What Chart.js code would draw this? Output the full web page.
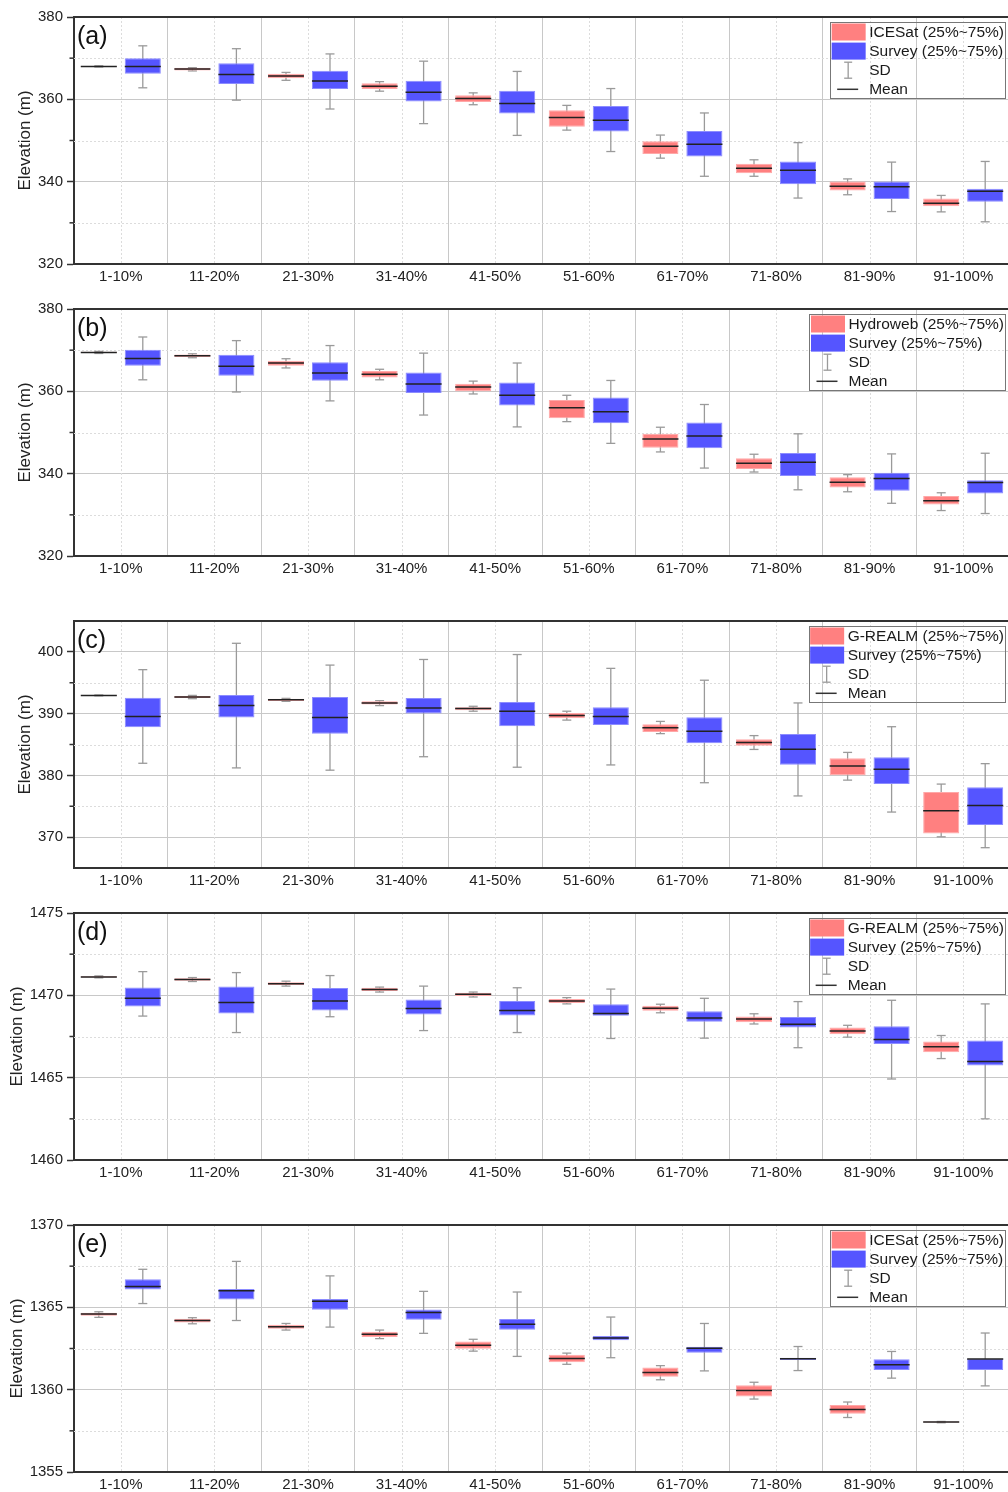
<!DOCTYPE html>
<html>
<head>
<meta charset="utf-8">
<title>Elevation by percentile</title>
<script src="https://cdn.jsdelivr.net/npm/chart.js@4.4.1/dist/chart.umd.min.js"></script>
<style>
html, body { margin: 0; padding: 0; background: #fff; width: 1008px; height: 1492px; overflow: hidden; position: relative; }
canvas.panel { position: absolute; left: 0; }
</style>
</head>
<body>
<canvas id="panelA" class="panel" width="1010" height="288" style="top:4px"></canvas>
<canvas id="panelB" class="panel" width="1010" height="288" style="top:296px"></canvas>
<canvas id="panelC" class="panel" width="1010" height="288" style="top:608px"></canvas>
<canvas id="panelD" class="panel" width="1010" height="288" style="top:900px"></canvas>
<canvas id="panelE" class="panel" width="1010" height="288" style="top:1212px"></canvas>
<script>
const categories = ['1-10%', '11-20%', '21-30%', '31-40%', '41-50%', '51-60%', '61-70%', '71-80%', '81-90%', '91-100%'];
const panelTags = ['(a)', '(b)', '(c)', '(d)', '(e)'];
const sourceNames = ['ICESat', 'Hydroweb', 'G-REALM', 'G-REALM', 'ICESat'];
const yMins = [320, 320, 365, 1460, 1355];
const yMaxs = [380, 380, 405, 1475, 1370];
const yTicks = [
    [320, 340, 360, 380],
    [320, 340, 360, 380],
    [370, 380, 390, 400],
    [1460, 1465, 1470, 1475],
    [1355, 1360, 1365, 1370]
];
const yMinorTicks = [
    [330, 350, 370],
    [330, 350, 370],
    [375, 385, 395],
    [1462.5, 1467.5, 1472.5],
    [1357.5, 1362.5, 1367.5]
];

// each row: [25%, 75%, mean, mean - SD, mean + SD]
const icesatA = [
    [367.9, 368.1, 368.0, 367.85, 368.15],
    [367.0, 367.66, 367.34, 366.9, 367.7],
    [365.1, 366.22, 365.66, 364.62, 366.54],
    [362.54, 363.9, 363.18, 361.98, 364.3],
    [359.33, 361.0, 360.21, 358.69, 361.57],
    [353.32, 357.33, 355.57, 352.52, 358.53],
    [346.75, 349.8, 348.6, 345.71, 351.32],
    [342.03, 344.35, 343.23, 341.31, 345.31],
    [337.86, 340.03, 338.9, 336.82, 340.67],
    [334.02, 335.94, 334.74, 332.66, 336.66]
];
const surveyA = [
    [366.22, 370.0, 368.0, 362.8, 373.0],
    [363.74, 368.78, 366.06, 359.8, 372.3],
    [362.54, 366.94, 364.46, 357.65, 371.03],
    [359.5, 364.54, 361.74, 354.1, 369.27],
    [356.53, 362.06, 359.01, 351.24, 366.78],
    [352.2, 358.37, 354.93, 347.32, 362.62],
    [346.11, 352.28, 349.08, 341.31, 356.69],
    [339.38, 344.91, 342.75, 336.02, 349.48],
    [335.78, 340.03, 338.74, 332.74, 344.75],
    [335.14, 338.26, 337.7, 330.25, 344.91]
];
const hydrowebB = [
    [369.3, 369.6, 369.44, 369.2, 369.7],
    [368.32, 368.96, 368.64, 368.16, 369.12],
    [366.24, 367.44, 366.88, 365.68, 367.92],
    [363.36, 364.96, 364.16, 362.8, 365.36],
    [360.0, 361.84, 361.04, 359.36, 362.48],
    [353.44, 357.92, 356.0, 352.64, 359.04],
    [346.32, 349.68, 348.4, 345.28, 351.28],
    [341.12, 343.76, 342.56, 340.4, 344.72],
    [336.64, 339.12, 337.92, 335.6, 339.76],
    [332.48, 334.56, 333.44, 331.04, 335.36]
];
const surveyB = [
    [366.24, 370.08, 368.0, 362.8, 373.2],
    [363.76, 368.88, 366.08, 359.84, 372.32],
    [362.56, 367.04, 364.48, 357.68, 371.12],
    [359.6, 364.56, 361.76, 354.24, 369.28],
    [356.56, 362.16, 359.04, 351.36, 366.88],
    [352.24, 358.48, 355.04, 347.36, 362.64],
    [346.16, 352.4, 349.12, 341.36, 356.8],
    [339.44, 345.04, 342.8, 336.08, 349.68],
    [335.84, 340.24, 338.8, 332.8, 344.8],
    [335.2, 338.4, 337.84, 330.32, 344.96]
];
const grealmC = [
    [392.9, 393.0, 392.95, 392.88, 393.02],
    [392.53, 392.85, 392.69, 392.42, 392.95],
    [392.05, 392.42, 392.26, 391.99, 392.47],
    [391.46, 391.99, 391.73, 391.3, 392.1],
    [390.55, 391.03, 390.82, 390.39, 391.19],
    [389.27, 390.12, 389.7, 388.95, 390.39],
    [387.03, 388.26, 387.72, 386.76, 388.74],
    [384.79, 385.85, 385.32, 384.2, 386.44],
    [380.04, 382.76, 381.53, 379.23, 383.72],
    [370.59, 377.31, 374.27, 370.05, 378.59]
];
const surveyC = [
    [387.78, 392.58, 389.54, 381.96, 397.12],
    [389.38, 393.01, 391.3, 381.21, 401.39],
    [386.76, 392.69, 389.38, 380.84, 397.86],
    [390.02, 392.53, 390.93, 383.02, 398.77],
    [387.94, 391.89, 390.39, 381.32, 399.57],
    [388.15, 391.03, 389.54, 381.69, 397.33],
    [385.21, 389.43, 387.14, 378.81, 395.41],
    [381.74, 386.71, 384.25, 376.67, 391.73],
    [378.59, 382.92, 381.0, 374.06, 387.88],
    [371.97, 378.06, 375.12, 368.29, 381.9]
];
const grealmD = [
    [1471.08, 1471.16, 1471.12, 1471.06, 1471.18],
    [1470.88, 1471.04, 1470.96, 1470.84, 1471.08],
    [1470.62, 1470.8, 1470.7, 1470.56, 1470.86],
    [1470.26, 1470.46, 1470.36, 1470.2, 1470.5],
    [1469.96, 1470.16, 1470.06, 1469.9, 1470.2],
    [1469.54, 1469.78, 1469.66, 1469.48, 1469.86],
    [1469.06, 1469.36, 1469.22, 1468.94, 1469.46],
    [1468.36, 1468.72, 1468.56, 1468.26, 1468.88],
    [1467.64, 1468.04, 1467.84, 1467.46, 1468.18],
    [1466.54, 1467.2, 1466.88, 1466.16, 1467.56]
];
const surveyD = [
    [1469.32, 1470.48, 1469.82, 1468.74, 1471.44],
    [1468.9, 1470.54, 1469.56, 1467.74, 1471.38],
    [1469.08, 1470.44, 1469.66, 1468.7, 1471.2],
    [1468.84, 1469.74, 1469.2, 1467.86, 1470.56],
    [1468.78, 1469.66, 1469.08, 1467.74, 1470.46],
    [1468.76, 1469.46, 1468.9, 1467.38, 1470.38],
    [1468.4, 1469.04, 1468.62, 1467.4, 1469.82],
    [1468.04, 1468.68, 1468.24, 1466.82, 1469.62],
    [1467.04, 1468.12, 1467.32, 1464.92, 1469.7],
    [1465.74, 1467.26, 1465.98, 1462.5, 1469.48]
];
const icesatE = [
    [1364.49, 1364.67, 1364.59, 1364.39, 1364.73],
    [1364.08, 1364.31, 1364.2, 1364.0, 1364.37],
    [1363.7, 1363.94, 1363.82, 1363.62, 1364.02],
    [1363.2, 1363.52, 1363.36, 1363.1, 1363.62],
    [1362.48, 1362.92, 1362.7, 1362.34, 1363.06],
    [1361.66, 1362.12, 1361.9, 1361.54, 1362.22],
    [1360.78, 1361.34, 1361.04, 1360.6, 1361.46],
    [1359.59, 1360.27, 1359.95, 1359.43, 1360.45],
    [1358.53, 1359.07, 1358.79, 1358.31, 1359.25],
    [1358.0, 1358.06, 1358.03, 1357.99, 1358.07]
];
const surveyE = [
    [1366.09, 1366.71, 1366.27, 1365.23, 1367.31],
    [1365.47, 1366.11, 1366.01, 1364.2, 1367.79],
    [1364.85, 1365.51, 1365.37, 1363.8, 1366.91],
    [1364.25, 1364.87, 1364.69, 1363.42, 1365.97],
    [1363.64, 1364.29, 1363.98, 1362.02, 1365.93],
    [1363.0, 1363.26, 1363.14, 1361.94, 1364.41],
    [1362.24, 1362.6, 1362.52, 1361.14, 1364.02],
    [1361.8, 1361.94, 1361.88, 1361.16, 1362.62],
    [1361.2, 1361.84, 1361.52, 1360.7, 1362.32],
    [1361.2, 1361.86, 1361.86, 1360.23, 1363.44]
];

const FONT = "'Liberation Sans', Arial, sans-serif";
const RED = '#ff8080';
const BLUE = '#5555ff';
const WHISKER = '#9a9a9a';
const AXIS = '#333333';

Chart.defaults.font.family = FONT;

function line(ctx, x1, y1, x2, y2) {
    ctx.beginPath();
    ctx.moveTo(x1, y1);
    ctx.lineTo(x2, y2);
    ctx.stroke();
}

// Whiskers, mean lines, minor grid, frame, tag and legend
const boxExtras = {
    id: 'boxExtras',
    beforeDatasetsDraw(chart, args, opts) {
        const { ctx, chartArea: a, scales: { x, y } } = chart;
        ctx.save();
        ctx.strokeStyle = '#dcdcdc';
        ctx.lineWidth = 1;
        ctx.setLineDash([2, 2]);
        categories.forEach((c, i) => {
            const px = Math.round(x.getPixelForValue(i)) + 0.5;
            line(ctx, px, a.top, px, a.bottom);
        });
        opts.minor.forEach(v => {
            const py = Math.round(y.getPixelForValue(v)) + 0.5;
            line(ctx, a.left, py, a.right, py);
        });
        ctx.setLineDash([]);
        ctx.strokeStyle = AXIS;
        ctx.lineWidth = 1.5;
        opts.minor.forEach(v => {
            const py = y.getPixelForValue(v);
            line(ctx, a.left - 4.5, py, a.left, py);
        });
        // SD whiskers
        ctx.strokeStyle = WHISKER;
        ctx.lineWidth = 1.3;
        chart.data.datasets.forEach((ds, d) => {
            chart.getDatasetMeta(d).data.forEach((bar, i) => {
                const s = ds.stats[i];
                const lo = y.getPixelForValue(s[3]);
                const hi = y.getPixelForValue(s[4]);
                line(ctx, bar.x, lo, bar.x, hi);
                line(ctx, bar.x - 4.5, lo, bar.x + 4.5, lo);
                line(ctx, bar.x - 4.5, hi, bar.x + 4.5, hi);
            });
        });
        ctx.restore();
    },
    afterDatasetsDraw(chart) {
        const { ctx, scales: { y } } = chart;
        ctx.save();
        ctx.strokeStyle = '#222';
        ctx.lineWidth = 1.5;
        chart.data.datasets.forEach((ds, d) => {
            chart.getDatasetMeta(d).data.forEach((bar, i) => {
                const py = y.getPixelForValue(ds.stats[i][2]);
                line(ctx, bar.x - bar.width / 2, py, bar.x + bar.width / 2, py);
            });
        });
        ctx.restore();
    },
    afterDraw(chart, args, opts) {
        const { ctx, chartArea: a } = chart;
        ctx.save();
        // top frame
        ctx.strokeStyle = AXIS;
        ctx.lineWidth = 2;
        line(ctx, a.left - 1, a.top, a.right, a.top);
        // panel tag
        ctx.fillStyle = '#111';
        ctx.font = '25px ' + FONT;
        ctx.textBaseline = 'alphabetic';
        ctx.textAlign = 'left';
        ctx.fillText(opts.tag, a.left + 3, a.top + 27);

        // legend
        const names = [opts.source + ' (25%~75%)', 'Survey (25%~75%)', 'SD', 'Mean'];
        ctx.font = '15.5px ' + FONT;
        const textW = Math.max(...names.map(n => ctx.measureText(n).width));
        const boxRight = a.right - 5;
        const textX = boxRight - 1 - textW;
        const boxLeft = textX - 39;
        const boxTop = a.top + 5;
        ctx.strokeStyle = '#777';
        ctx.lineWidth = 1;
        ctx.strokeRect(Math.round(boxLeft) + 0.5, Math.round(boxTop) + 0.5, Math.round(boxRight - boxLeft), 76);
        ctx.textBaseline = 'middle';
        ctx.fillStyle = '#1a1a1a';
        names.forEach((n, k) => {
            const ry = boxTop + 10 + 19.1 * k;
            if (k === 0 || k === 1) {
                ctx.fillStyle = k === 0 ? RED : BLUE;
                ctx.fillRect(boxLeft + 1.5, ry - 8.5, 34, 17);
            } else if (k === 2) {
                const cx = boxLeft + 18;
                ctx.strokeStyle = WHISKER;
                ctx.lineWidth = 1.3;
                line(ctx, cx, ry - 8, cx, ry + 8);
                line(ctx, cx - 4, ry - 8, cx + 4, ry - 8);
                line(ctx, cx - 4, ry + 8, cx + 4, ry + 8);
            } else {
                ctx.strokeStyle = '#333';
                ctx.lineWidth = 1.5;
                line(ctx, boxLeft + 7, ry, boxLeft + 28, ry);
            }
            ctx.fillStyle = '#1a1a1a';
            ctx.fillText(n, textX, ry + 0.5);
        });
        ctx.restore();
    }
};

function makePanel(canvasId, idx, altimetry, survey) {
    const wideLabels = yTicks[idx][0] >= 1000;
    return new Chart(document.getElementById(canvasId), {
        type: 'bar',
        data: {
            labels: categories,
            datasets: [
                {
                    label: sourceNames[idx],
                    data: altimetry.map(r => [r[0], r[1]]),
                    stats: altimetry,
                    backgroundColor: RED,
                    borderColor: '#ffa8a8',
                    borderWidth: 1,
                    borderSkipped: false,
                    categoryPercentage: 0.94,
                    barPercentage: 0.82
                },
                {
                    label: 'Survey',
                    data: survey.map(r => [r[0], r[1]]),
                    stats: survey,
                    backgroundColor: BLUE,
                    borderColor: '#8c8cff',
                    borderWidth: 1,
                    borderSkipped: false,
                    categoryPercentage: 0.94,
                    barPercentage: 0.82
                }
            ]
        },
        options: {
            responsive: false,
            animation: false,
            events: [],
            layout: { padding: { top: 10, left: 0, right: 0, bottom: 0 } },
            plugins: {
                legend: { display: false },
                tooltip: { enabled: false },
                boxExtras: { tag: panelTags[idx], source: sourceNames[idx], minor: yMinorTicks[idx] }
            },
            scales: {
                x: {
                    offset: true,
                    grid: { offset: true, color: '#c8c8c8', lineWidth: 1, drawTicks: false },
                    border: { color: AXIS, width: 2 },
                    ticks: { color: '#222', font: { size: 15 }, padding: 4, maxRotation: 0, autoSkip: false },
                    afterFit: s => { s.height = 28; }
                },
                y: {
                    min: yMins[idx],
                    max: yMaxs[idx],
                    afterBuildTicks: s => { s.ticks = yTicks[idx].map(v => ({ value: v })); },
                    afterFit: s => { s.width = 74; },
                    grid: { color: '#c8c8c8', lineWidth: 1, tickLength: 7, tickColor: AXIS, tickWidth: 1.5 },
                    border: { color: AXIS, width: 2 },
                    ticks: { color: '#222', font: { size: 15 }, padding: 4, callback: v => String(v) },
                    title: {
                        display: true,
                        text: 'Elevation (m)',
                        color: '#222',
                        font: { size: 17 },
                        padding: { top: wideLabels ? 7 : 15, bottom: 0 }
                    }
                }
            }
        },
        plugins: [boxExtras]
    });
}

makePanel('panelA', 0, icesatA, surveyA);
makePanel('panelB', 1, hydrowebB, surveyB);
makePanel('panelC', 2, grealmC, surveyC);
makePanel('panelD', 3, grealmD, surveyD);
makePanel('panelE', 4, icesatE, surveyE);
</script>
</body>
</html>
